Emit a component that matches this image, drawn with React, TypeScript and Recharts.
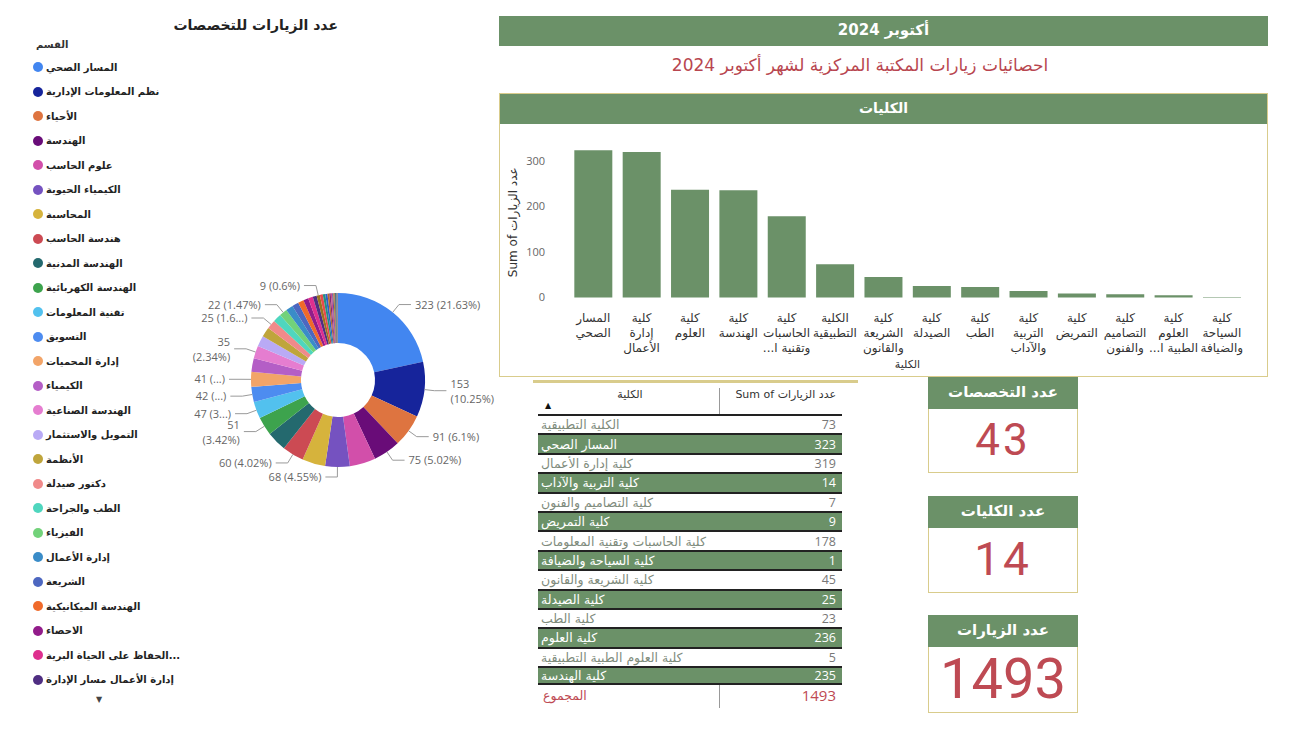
import React from "react";
import { PieChart, Pie, Cell, BarChart, Bar, XAxis, YAxis } from "recharts";

const GREEN = "#6B9168";
const GOLD = "#D9CC8C";
const RED = "#BE4A53";
const AR = "'DejaVu Sans', 'Noto Sans', sans-serif";
const NUM = "Roboto, 'DejaVu Sans', sans-serif";

// التخصصات (pie) - sorted as in the legend
const specialties = [
  "المسار الصحي",
  "نظم المعلومات الإدارية",
  "الأحياء",
  "الهندسة",
  "علوم الحاسب",
  "الكيمياء الحيوية",
  "المحاسبة",
  "هندسة الحاسب",
  "الهندسة المدنية",
  "الهندسة الكهربائية",
  "تقنية المعلومات",
  "التسويق",
  "إدارة المحميات",
  "الكيمياء",
  "الهندسة الصناعية",
  "التمويل والاستثمار",
  "الأنظمة",
  "دكتور صيدلة",
  "الطب والجراحة",
  "الفيزياء",
  "إدارة الأعمال",
  "الشريعة",
  "الهندسة الميكانيكية",
  "الاحصاء",
  "الحفاظ على الحياة البرية والفطرية",
  "إدارة الأعمال مسار الإدارة",
  "الرياضيات",
  "اللغة الإنجليزية",
  "التمريض",
  "التصميم الداخلي",
  "اللغة العربية",
  "المختبرات الطبية",
  "القانون",
  "تصميم الأزياء",
  "الدراسات الإسلامية",
  "العلاج الطبيعي",
  "الأشعة",
  "التربية الخاصة",
  "السياحة والضيافة",
  "علوم الأغذية",
  "الجغرافيا",
  "التاريخ",
  "الإعلام",
];
const specialtyVisits = [
  323, 153, 91, 75, 72, 68, 64, 60, 55, 51, 47, 42, 41, 38, 35, 30, 27, 25, 23,
  22, 20, 18, 16, 14, 13, 11, 9, 8, 7, 6, 5, 4, 4, 3, 3, 2, 2, 1, 1, 1, 1, 1, 1,
];
const sliceColors = [
  "#4286F0", "#16249B", "#DE7440", "#690C78", "#D24FAA", "#7552C0", "#D6B33C",
  "#CC4A53", "#24696E", "#3DA34D", "#52C1EE", "#4D8CF0", "#F2A468", "#B45EC6",
  "#E57DD0", "#B9AAF5", "#BFA53C", "#F08A8A", "#4FD6BE", "#72D27A", "#3A8CC8",
  "#4D67C0", "#F06A2A", "#921C8A", "#DE2F8E", "#4F2E82", "#9A7420", "#E94B4B",
  "#259080", "#2F5EC8", "#B8682E", "#7E2D74", "#C84A8C", "#5A3E9A", "#9C8A2A",
  "#A83848", "#1B5558", "#2E7A3A", "#2C7FB0", "#334A8A", "#B85A20", "#5B1F5E",
  "#6A7FA0",
];
const legendShown = 26;

// الكليات (table order)
const colleges = [
  "الكلية التطبيقية",
  "المسار الصحي",
  "كلية إدارة الأعمال",
  "كلية التربية والآداب",
  "كلية التصاميم والفنون",
  "كلية التمريض",
  "كلية الحاسبات وتقنية المعلومات",
  "كلية السياحة والضيافة",
  "كلية الشريعة والقانون",
  "كلية الصيدلة",
  "كلية الطب",
  "كلية العلوم",
  "كلية العلوم الطبية التطبيقية",
  "كلية الهندسة",
];
const collegeVisits = [73, 323, 319, 14, 7, 9, 178, 1, 45, 25, 23, 236, 5, 235];

const yTicks = [0, 100, 200, 300];

const pieData = specialties.map((name, i) => ({ name, value: specialtyVisits[i] }));
const barData = colleges
  .map((name, i) => ({ name, value: collegeVisits[i] }))
  .sort((a, b) => b.value - a.value);
const total = specialtyVisits.reduce((a, b) => a + b, 0);

// which pie labels power bi managed to show, and how it squeezed them
const shownLabels = [0, 1, 2, 3, 5, 7, 9, 10, 11, 12, 14, 17, 19, 26];
const wrapLabels = [1, 9, 14];
const cutLabels: Record<number, number> = { 10: 1, 11: 0, 12: 0, 17: 3 };

const RAD = Math.PI / 180;
const pct = (v: number) => String(Math.round((v / total) * 10000) / 100);

function PieLabel(props: any) {
  const { cx, cy, midAngle, outerRadius, index, value } = props;
  if (!shownLabels.includes(index)) return null;
  const cos = Math.cos(-midAngle * RAD);
  const sin = Math.sin(-midAngle * RAD);
  const x0 = cx + outerRadius * cos;
  const y0 = cy + outerRadius * sin;
  const x1 = cx + (outerRadius + 10) * cos;
  const y1 = cy + (outerRadius + 10) * sin;
  const dir = cos >= 0 ? 1 : -1;
  const x2 = x1 + dir * 12;
  const tx = x2 + dir * 4;
  let p = pct(value) + "%";
  if (cutLabels[index] !== undefined) p = p.slice(0, cutLabels[index]) + "...";
  const anchor = dir > 0 ? "start" : "end";
  return (
    <g>
      <polyline
        points={`${x0},${y0} ${x1},${y1} ${x2},${y1}`}
        fill="none"
        stroke="#9a9a9a"
        strokeWidth={1}
      />
      {wrapLabels.includes(index) ? (
        <text x={tx} y={y1} textAnchor={anchor} fontSize={11} fill="#666" fontFamily="'Open Sans', sans-serif">
          <tspan x={tx} dy={-3}>{value}</tspan>
          <tspan x={tx} dy={15}>({p})</tspan>
        </text>
      ) : (
        <text x={tx} y={y1 + 4} textAnchor={anchor} fontSize={11} fill="#666" fontFamily="'Open Sans', sans-serif">
          {`${value} (${p})`}
        </text>
      )}
    </g>
  );
}

function wrapCollege(name: string) {
  const words = name.split(" ");
  if (words.length <= 3) return words;
  const rest = words.slice(2).join(" ");
  return [words[0], words[1], rest.slice(0, 8) + "..."];
}

function CollegeTick(props: any) {
  const { x, y, payload } = props;
  const lines = wrapCollege(String(payload.value));
  return (
    <g transform={`translate(${x},${y})`}>
      {lines.map((l, i) => (
        <text
          key={i}
          x={0}
          y={16 + i * 15}
          textAnchor="middle"
          direction="rtl"
          fontSize={12}
          fill="#333"
          fontFamily={AR}>
          {l}
        </text>
      ))}
    </g>
  );
}

function Card({ top, title, value, size, bodyH }: any) {
  return (
    <div style={{ position: "absolute", left: 928, top, width: 150 }}>
      <div
        style={{
          height: 32,
          background: GREEN,
          color: "#fff",
          fontWeight: "bold",
          fontSize: 15,
          fontFamily: AR,
          textAlign: "center",
          lineHeight: "30px",
        }}>
        {title}
      </div>
      <div
        style={{
          height: bodyH,
          border: `1px solid ${GOLD}`,
          borderTop: "none",
          boxSizing: "border-box",
          color: RED,
          fontFamily: NUM,
          fontSize: size,
          letterSpacing: size < 50 ? 3 : 0,
          textAlign: "center",
          lineHeight: `${bodyH - 2}px`,
        }}>
        {value}
      </div>
    </div>
  );
}

export default function App() {
  const rowH = 19.4;
  return (
    <div
      style={{
        position: "absolute",
        left: 0,
        top: 0,
        width: 1290,
        height: 731,
        background: "#fff",
        overflow: "hidden",
        fontFamily: AR,
      }}>
      {/* pie title + legend */}
      <div
        style={{
          position: "absolute",
          left: 150,
          top: 15,
          width: 188,
          textAlign: "right",
          fontWeight: "bold",
          fontSize: 14,
          color: "#222",
          lineHeight: "20px",
        }}>
        عدد الزيارات للتخصصات
      </div>
      <div style={{ position: "absolute", left: 36, top: 39, fontSize: 10, fontWeight: "bold", color: "#333" }}>
        القسم
      </div>
      {pieData.slice(0, legendShown).map((d, i) => (
        <div
          key={d.name}
          style={{
            position: "absolute",
            left: 33,
            top: 60 + i * 24.5,
            height: 14,
            display: "flex",
            alignItems: "center",
            fontSize: 10,
            fontWeight: "bold",
            color: "#222",
            whiteSpace: "nowrap",
          }}>
          <span
            style={{
              width: 10,
              height: 10,
              borderRadius: 5,
              background: sliceColors[i],
              marginRight: 3,
              display: "inline-block",
            }}
          />
          <span>{d.name.length > 28 ? d.name.slice(0, 24) + "..." : d.name}</span>
        </div>
      ))}
      <div style={{ position: "absolute", left: 96, top: 695, fontSize: 8, color: "#444" }}>▼</div>

      {/* pie */}
      <div style={{ position: "absolute", left: 173, top: 225 }}>
        <PieChart width={330} height={300}>
          <Pie
            data={pieData}
            dataKey="value"
            nameKey="name"
            cx={160}
            cy={150}
            innerRadius={37}
            outerRadius={87}
            startAngle={90}
            endAngle={-270}
            stroke="none"
            label={PieLabel}
            labelLine={false}
            isAnimationActive={false}>
            {pieData.map((d, i) => (
              <Cell key={d.name} fill={sliceColors[i]} />
            ))}
          </Pie>
        </PieChart>
      </div>

      {/* top header */}
      <div
        style={{
          position: "absolute",
          left: 499,
          top: 16,
          width: 769,
          height: 30,
          background: GREEN,
          color: "#fff",
          fontWeight: "bold",
          fontSize: 15,
          textAlign: "center",
          lineHeight: "28px",
        }}>
        أكتوبر 2024
      </div>
      <div
        style={{
          position: "absolute",
          left: 560,
          top: 53,
          width: 600,
          textAlign: "center",
          fontSize: 17,
          color: "#B8464F",
          lineHeight: "24px",
        }}>
        احصائيات زيارات المكتبة المركزية لشهر أكتوبر 2024
      </div>

      {/* bar panel */}
      <div
        style={{
          position: "absolute",
          left: 499,
          top: 93,
          width: 769,
          height: 284,
          border: `1px solid ${GOLD}`,
          boxSizing: "border-box",
        }}>
        <div
          style={{
            height: 30,
            background: GREEN,
            color: "#fff",
            fontWeight: "bold",
            fontSize: 14,
            textAlign: "center",
            lineHeight: "28px",
          }}>
          الكليات
        </div>
      </div>
      <div style={{ position: "absolute", left: 500, top: 125 }}>
        <BarChart
          width={768}
          height={250}
          data={barData}
          margin={{ top: 22, right: 22, bottom: 7.5, left: 0 }}
          barCategoryGap="11%">
          <XAxis
            dataKey="name"
            interval={0}
            axisLine={false}
            tickLine={false}
            height={70}
            tick={CollegeTick}
            label={{ value: "الكلية", position: "insideBottom", offset: 0, fontSize: 11, fill: "#333" }}
          />
          <YAxis
            domain={[0, 330]}
            ticks={yTicks}
            axisLine={false}
            tickLine={false}
            width={69}
            tickMargin={18}
            tick={{ fontSize: 11, fill: "#666", fontFamily: "'Open Sans', sans-serif" }}
            label={{
              value: "Sum of عدد الزيارات",
              angle: -90,
              position: "insideLeft",
              offset: 13,
              style: { textAnchor: "middle", fontSize: 12, fill: "#333" },
            }}
          />
          <Bar dataKey="value" fill={GREEN} isAnimationActive={false} />
        </BarChart>
      </div>

      {/* table */}
      <div style={{ position: "absolute", left: 533, top: 380, width: 325, height: 3, background: GOLD }} />
      <div style={{ position: "absolute", left: 719, top: 388, width: 1, height: 320, background: "#999" }} />
      <div style={{ position: "absolute", left: 541, top: 388, width: 178, textAlign: "center", fontSize: 11, color: "#333" }}>
        الكلية
      </div>
      <div style={{ position: "absolute", left: 545, top: 401, fontSize: 8, color: "#111" }}>▲</div>
      <div
        style={{
          position: "absolute",
          left: 700,
          top: 388,
          width: 136,
          textAlign: "right",
          fontSize: 11,
          color: "#333",
          direction: "rtl",
        }}>
        <span style={{ direction: "rtl", unicodeBidi: "plaintext", display: "inline-block" }}>Sum of عدد الزيارات</span>
      </div>
      <div style={{ position: "absolute", left: 538, top: 414, width: 304 }}>
        {colleges.map((c, i) => {
          const odd = i % 2 === 1;
          return (
            <div
              key={c}
              style={{
                height: rowH,
                boxSizing: "border-box",
                borderTop: "2px solid #222",
                borderBottom: i === colleges.length - 1 ? "2px solid #222" : "none",
                background: odd ? GREEN : "#fff",
                color: odd ? "#fff" : "#7f8c7d",
                display: "flex",
                justifyContent: "space-between",
                alignItems: "center",
                padding: "0 6px 0 3px",
                fontSize: 12.5,
              }}>
              <span style={{ whiteSpace: "nowrap" }}>{c}</span>
              <span style={{ fontFamily: "'Open Sans', sans-serif", color: odd ? "#fff" : "#777" }}>
                {collegeVisits[i]}
              </span>
            </div>
          );
        })}
        <div
          style={{
            height: 20,
            display: "flex",
            justifyContent: "space-between",
            alignItems: "center",
            padding: "0 6px 0 5px",
            color: RED,
          }}>
          <span style={{ fontSize: 12.5 }}>المجموع</span>
          <span style={{ fontSize: 15, fontFamily: "'Open Sans', sans-serif" }}>
            {collegeVisits.reduce((a, b) => a + b, 0)}
          </span>
        </div>
      </div>

      {/* cards */}
      <Card top={377} title="عدد التخصصات" value={specialties.length} size={44} bodyH={64} />
      <Card top={496} title="عدد الكليات" value={colleges.length} size={46} bodyH={65} />
      <Card top={615} title="عدد الزيارات" value={total} size={56} bodyH={66} />
    </div>
  );
}
